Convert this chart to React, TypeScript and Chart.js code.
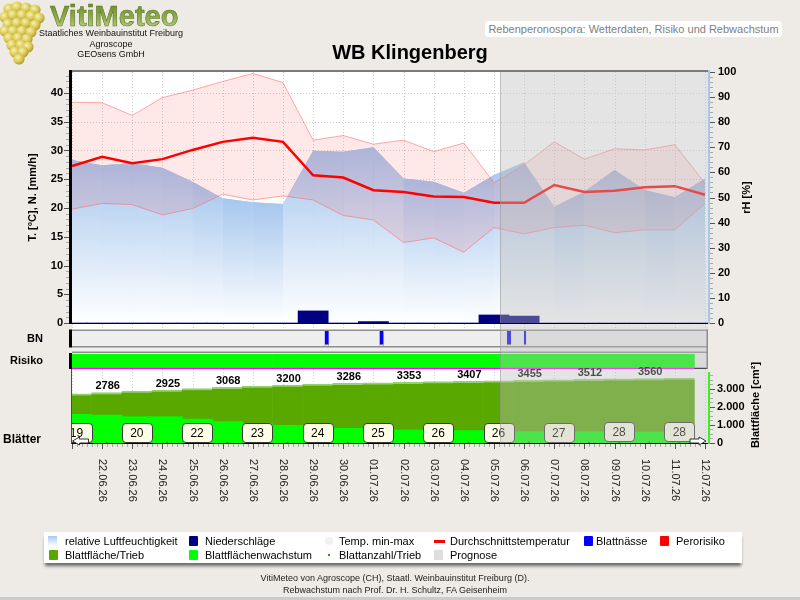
import React, { useEffect, useRef } from 'react';
import { Chart, registerables } from 'chart.js';

Chart.register(...registerables);

const FONT = '"Liberation Sans", Arial, Helvetica, sans-serif';

// ---------------- data ----------------
const days = ['21.06.26', '22.06.26', '23.06.26', '24.06.26', '25.06.26', '26.06.26', '27.06.26', '28.06.26', '29.06.26', '30.06.26', '01.07.26', '02.07.26', '03.07.26', '04.07.26', '05.07.26', '06.07.26', '07.07.26', '08.07.26', '09.07.26', '10.07.26', '11.07.26', '12.07.26'];
const firstLabelledDay = 1;

const tempMean = [27.3, 28.9, 27.8, 28.5, 30.1, 31.5, 32.2, 31.5, 25.7, 25.3, 23.1, 22.8, 22.0, 21.9, 20.9, 20.9, 24.0, 22.8, 23.0, 23.6, 23.8, 22.3];
const tempMax = [38.4, 38.3, 36.1, 39.2, 40.5, 42.0, 43.4, 41.8, 31.8, 32.6, 31.1, 31.8, 29.8, 31.3, 24.4, 27.5, 31.5, 28.5, 30.3, 30.1, 31.0, 24.3];
const tempMin = [19.8, 20.8, 20.6, 18.8, 19.9, 22.4, 21.4, 22.1, 21.4, 18.7, 17.9, 14.0, 14.8, 12.3, 16.6, 15.5, 16.6, 17.0, 15.7, 16.2, 16.2, 20.8];
const humidity = [64.9, 62.8, 63.6, 61.9, 56.3, 49.7, 48.1, 47.4, 68.6, 68.2, 70.0, 57.6, 56.3, 51.9, 59.0, 63.9, 46.3, 52.3, 61.0, 53.0, 50.1, 57.6];
const precipitation = [0, 0, 0, 0, 0, 0, 0, 0, 2.1, 0, 0.25, 0, 0, 0, 1.4, 1.2, 0, 0, 0, 0, 0, 0];
const leafWetness = [[8.38, 8.52], [10.2, 10.34], [14.43, 14.57], [14.99, 15.07]];

const riskLevel = [0, 0, 0, 0, 0, 0, 0, 0, 0, 0, 0, 0, 0, 0, 0, 0, 0, 0, 0, 0, 0];
const leafArea = [2710, 2786, 2858, 2925, 2998, 3068, 3136, 3200, 3245, 3286, 3321, 3353, 3382, 3407, 3432, 3455, 3485, 3512, 3537, 3560, 3584];
const leafGrowth = [1580, 1540, 1450, 1450, 1320, 1180, 1070, 980, 900, 810, 720, 720, 700, 690, 660, 630, 630, 620, 620, 610, 610];
const leafCount = [19, 20, 20, 21, 22, 22, 23, 23, 24, 24, 25, 25, 26, 26, 26, 26, 27, 27, 28, 28, 28];
const forecastStart = 14.2;
const leafModelTime = 0.15;

const tempTicks = [0, 5, 10, 15, 20, 25, 30, 35, 40];
const humidityTicks = [0, 10, 20, 30, 40, 50, 60, 70, 80, 90, 100];
const leafTicks = [0, 1000, 2000, 3000];

// ---------------- layout ----------------
const AREA = { left: 72, right: 708, top: 72, bottom: 445 };
const X_MAX = 21.1;
const DAY_PX = (AREA.right - AREA.left) / X_MAX;

function axisRange(zeroPx: number, pxPerUnit: number) {
  return { min: -(AREA.bottom - zeroPx) / pxPerUnit, max: (zeroPx - AREA.top) / pxPerUnit };
}
const tRange = axisRange(323, 5.75);
const rhRange = axisRange(323, 2.51);
const bnRange = axisRange(346, 15);
const riskRange = axisRange(369, 15);
const leafRange = axisRange(443, 0.01813);

const DS_LEAF_AREA = 8;
const DS_LEAF_COUNT = 10;

const RH_TOP_COLOR = '#a6c7ee';

function fmtThousands(v: number) {
  return String(v).replace(/\B(?=(\d{3})+(?!\d))/g, '.');
}

function line(ctx: any, x1: number, y1: number, x2: number, y2: number) {
  ctx.beginPath();
  ctx.moveTo(x1, y1);
  ctx.lineTo(x2, y2);
  ctx.stroke();
}

function roundRect(ctx: any, x: number, y: number, w: number, h: number, r: number) {
  ctx.beginPath();
  ctx.moveTo(x + r, y);
  ctx.lineTo(x + w - r, y);
  ctx.quadraticCurveTo(x + w, y, x + w, y + r);
  ctx.lineTo(x + w, y + h - r);
  ctx.quadraticCurveTo(x + w, y + h, x + w - r, y + h);
  ctx.lineTo(x + r, y + h);
  ctx.quadraticCurveTo(x, y + h, x, y + h - r);
  ctx.lineTo(x, y + r);
  ctx.quadraticCurveTo(x, y, x + r, y);
  ctx.closePath();
}

function rotatedText(ctx: any, text: string, x: number, y: number, angle: number, align: string) {
  ctx.save();
  ctx.translate(x, y);
  ctx.rotate(angle);
  ctx.textAlign = align;
  ctx.fillText(text, 0, 0);
  ctx.restore();
}

function arrow(ctx: any, tipX: number, y: number, dir: number) {
  const len = 16, head = 7, half = 4, shaft = 2;
  ctx.beginPath();
  ctx.moveTo(tipX, y);
  ctx.lineTo(tipX - dir * head, y - half);
  ctx.lineTo(tipX - dir * head, y - shaft);
  ctx.lineTo(tipX - dir * len, y - shaft);
  ctx.lineTo(tipX - dir * len, y + shaft);
  ctx.lineTo(tipX - dir * head, y + shaft);
  ctx.lineTo(tipX - dir * head, y + half);
  ctx.closePath();
  ctx.fillStyle = '#ffffff';
  ctx.fill();
  ctx.strokeStyle = '#333';
  ctx.lineWidth = 1;
  ctx.stroke();
}

function geometry(chart: any) {
  const s = chart.scales;
  return {
    zeroT: s.yT.getPixelForValue(0),
    bnTop: s.yBN.getPixelForValue(1),
    bnBottom: s.yBN.getPixelForValue(0),
    riskTop: s.yRisk.getPixelForValue(1),
    riskBottom: s.yRisk.getPixelForValue(0),
    leafZero: s.yLeaf.getPixelForValue(0),
  };
}

function rhSegmentFill(c: any) {
  const chart = c.chart;
  const base = chart.scales.yRH.getPixelForValue(0);
  const top = Math.min(c.p0.y, c.p1.y);
  const g = chart.ctx.createLinearGradient(0, top, 0, base);
  g.addColorStop(0, RH_TOP_COLOR);
  g.addColorStop(1, '#ffffff');
  return g;
}

function rhUnderFill(c: any) {
  const chart = c.chart;
  const sc = chart.scales.yRH;
  if (!sc || !chart.chartArea) return '#c8dcf4';
  const base = sc.getPixelForValue(0);
  const top = sc.getPixelForValue(60);
  const g = chart.ctx.createLinearGradient(0, top, 0, base);
  g.addColorStop(0, RH_TOP_COLOR);
  g.addColorStop(1, '#ffffff');
  return g;
}

const decorPlugin = {
  id: 'vitimeteoDecor',
  beforeDatasetsDraw(chart: any) {
    const { ctx, chartArea: a, scales: s } = chart;
    const g = geometry(chart);
    const W = a.right - a.left;
    ctx.save();
    ctx.fillStyle = '#ffffff';
    ctx.fillRect(a.left, a.top, W, g.bnTop - 1 - a.top);
    ctx.fillStyle = '#eeeeee';
    ctx.fillRect(a.left, g.bnTop - 1, W, g.riskBottom - g.bnTop + 1);
    ctx.fillStyle = '#ffffff';
    ctx.fillRect(a.left, g.riskBottom, W, g.leafZero - g.riskBottom);

    ctx.strokeStyle = '#d0d0d0';
    ctx.lineWidth = 1;
    ctx.setLineDash([1, 2]);
    days.forEach((_, d) => {
      const px = Math.round(s.x.getPixelForValue(d)) + 0.5;
      line(ctx, px, a.top, px, g.bnTop - 1);
      line(ctx, px, g.riskBottom, px, g.leafZero);
    });
    tempTicks.forEach((v) => {
      if (v === 0) return;
      const py = Math.round(s.yT.getPixelForValue(v)) + 0.5;
      line(ctx, a.left, py, a.right, py);
    });
    ctx.setLineDash([]);

    ctx.strokeStyle = '#8e8e8e';
    ctx.lineWidth = 1.5;
    line(ctx, a.left, g.bnTop - 0.75, a.right, g.bnTop - 0.75);
    line(ctx, a.left, g.bnBottom + 0.75, a.right, g.bnBottom + 0.75);
    line(ctx, a.left, g.riskTop - 1.75, a.right, g.riskTop - 1.75);
    ctx.strokeStyle = '#000';
    ctx.lineWidth = 1.2;
    line(ctx, a.left, g.riskBottom - 0.6, a.right, g.riskBottom - 0.6);
    ctx.restore();
  },
  afterDatasetsDraw(chart: any) {
    const { ctx, chartArea: a, scales: s } = chart;
    const g = geometry(chart);

    ctx.save();
    ctx.beginPath();
    ctx.rect(a.left, a.top, a.right - a.left, a.bottom - a.top);
    ctx.clip();

    // leaf area labels
    const areaMeta = chart.getDatasetMeta(DS_LEAF_AREA);
    ctx.font = `bold 11px ${FONT}`;
    ctx.fillStyle = '#000';
    ctx.textAlign = 'center';
    ctx.textBaseline = 'alphabetic';
    areaMeta.data.forEach((el: any, i: number) => {
      if (i % 2 === 1) ctx.fillText(String(leafArea[i]), el.x + 1, el.y - 3);
    });

    // leaf count boxes
    const countMeta = chart.getDatasetMeta(DS_LEAF_COUNT);
    ctx.font = `12px ${FONT}`;
    ctx.textBaseline = 'middle';
    countMeta.data.forEach((el: any, i: number) => {
      if (i % 2 !== 0) return;
      const bx = Math.round(el.x - 15) + 0.5;
      const by = Math.round(el.y - 20) + 0.5;
      roundRect(ctx, bx, by, 30, 19, 3.5);
      ctx.fillStyle = '#ffffe8';
      ctx.fill();
      ctx.strokeStyle = '#3a3a3a';
      ctx.lineWidth = 1;
      ctx.stroke();
      ctx.fillStyle = '#000';
      ctx.fillText(String(leafCount[i]), el.x, by + 10);
    });

    // forecast overlay
    const fx = s.x.getPixelForValue(forecastStart);
    ctx.fillStyle = 'rgba(188,188,188,0.4)';
    ctx.fillRect(fx, a.top, a.right - fx, g.leafZero - a.top);
    ctx.strokeStyle = 'rgba(140,140,140,0.45)';
    ctx.lineWidth = 1;
    line(ctx, Math.round(fx) + 0.5, a.top, Math.round(fx) + 0.5, g.leafZero);
    ctx.restore();

    ctx.save();
    // frame lines
    ctx.strokeStyle = '#7a7a7a';
    ctx.lineWidth = 2;
    line(ctx, a.left, a.top - 1, a.right, a.top - 1);
    ctx.strokeStyle = '#000';
    ctx.lineWidth = 1;
    line(ctx, a.left, Math.round(g.zeroT) + 0.5, a.right, Math.round(g.zeroT) + 0.5);
    line(ctx, a.left, Math.round(g.leafZero) + 0.5, a.right, Math.round(g.leafZero) + 0.5);
    ctx.lineWidth = 3;
    line(ctx, a.left - 1.5, a.top - 2, a.left - 1.5, g.zeroT + 1);
    line(ctx, a.left - 1.5, g.bnTop - 1.5, a.left - 1.5, g.bnBottom + 1.5);
    line(ctx, a.left - 1.5, g.riskTop - 1, a.left - 1.5, g.riskBottom);
    ctx.lineWidth = 1;
    ctx.strokeStyle = '#4a4a4a';
    line(ctx, a.left - 0.5, g.riskBottom, a.left - 0.5, g.leafZero + 1);
    ctx.strokeStyle = '#8e8e8e';
    ctx.lineWidth = 1.5;
    line(ctx, a.right - 0.75, g.bnTop - 1.5, a.right - 0.75, g.riskBottom);
    ctx.lineWidth = 2;
    ctx.strokeStyle = '#a6c6ec';
    line(ctx, a.right + 1, a.top - 2, a.right + 1, g.zeroT + 1);
    ctx.strokeStyle = '#3cf01e';
    line(ctx, a.right + 1, g.riskBottom + 3, a.right + 1, g.leafZero + 1);

    // tick marks
    ctx.lineWidth = 1;
    for (let v = 0; v <= 43; v++) {
      const py = Math.round(s.yT.getPixelForValue(v)) + 0.5;
      const major = v % 5 === 0;
      ctx.strokeStyle = major ? '#555' : '#a8a8a8';
      line(ctx, a.left - (major ? 8 : 6), py, a.left - 3, py);
    }
    for (let v = 0; v <= 100; v += 2) {
      const py = Math.round(s.yRH.getPixelForValue(v)) + 0.5;
      const major = v % 10 === 0;
      ctx.strokeStyle = major ? '#555' : '#a8a8a8';
      line(ctx, a.right + 2, py, a.right + (major ? 7 : 5), py);
    }
    for (let v = 0; v <= 3750; v += 250) {
      const py = Math.round(s.yLeaf.getPixelForValue(v)) + 0.5;
      const major = v % 1000 === 0;
      ctx.strokeStyle = major ? '#555' : '#a8a8a8';
      line(ctx, a.right + 2, py, a.right + (major ? 7 : 5), py);
    }
    for (let d = 0; d < days.length; d++) {
      for (let k = 0; k < 6; k++) {
        const v = d + k / 6;
        if (v > X_MAX) break;
        const px = Math.round(s.x.getPixelForValue(v)) + 0.5;
        ctx.strokeStyle = k === 0 ? '#555' : '#a8a8a8';
        line(ctx, px, g.leafZero + 1, px, g.leafZero + (k === 0 ? 6 : 4));
      }
    }

    // texts
    ctx.fillStyle = '#000';
    ctx.font = `bold 11px ${FONT}`;
    ctx.textAlign = 'left';
    ctx.textBaseline = 'middle';
    leafTicks.forEach((v) => ctx.fillText(fmtThousands(v), a.right + 9, s.yLeaf.getPixelForValue(v)));

    rotatedText(ctx, 'T. [°C], N. [mm/h]', 33, (a.top + g.zeroT) / 2, -Math.PI / 2, 'center');
    rotatedText(ctx, 'rH [%]', 747, (a.top + g.zeroT) / 2, -Math.PI / 2, 'center');
    rotatedText(ctx, 'Blattfläche [cm²]', 756, 405, -Math.PI / 2, 'center');

    ctx.textAlign = 'right';
    ctx.fillText('BN', 43, (g.bnTop + g.bnBottom) / 2);
    ctx.fillText('Risiko', 43, (g.riskTop + g.riskBottom) / 2 - 0.5);
    ctx.font = `bold 12px ${FONT}`;
    ctx.textAlign = 'left';
    ctx.fillText('Blätter', 3, g.leafZero - 3);

    ctx.font = `11px ${FONT}`;
    ctx.fillStyle = '#222';
    for (let d = firstLabelledDay; d < days.length; d++) {
      rotatedText(ctx, days[d], s.x.getPixelForValue(d), 459, Math.PI / 2, 'left');
    }

    arrow(ctx, a.left + 0.5, g.leafZero - 2, -1);
    arrow(ctx, a.right - 2, g.leafZero - 2, 1);
    ctx.restore();
  },
};

const boldTick = { family: FONT, size: 11, weight: 'bold' as const };

function buildConfig(): any {
  const dayPoints = (arr: number[]) => arr.map((v, i) => ({ x: i, y: v }));
  const leafPoints = (arr: number[]) => arr.map((v, i) => ({ x: i + leafModelTime, y: v }));
  const wetnessPoints = (h: number) =>
    leafWetness.flatMap(([s, e]) => [{ x: s, y: h }, { x: e, y: h }, { x: e, y: null }]);

  return {
    type: 'line',
    data: {
      datasets: [
        {
          label: 'relative Luftfeuchtigkeit',
          data: dayPoints(humidity),
          yAxisID: 'yRH',
          borderWidth: 0,
          borderColor: 'transparent',
          backgroundColor: '#c0d8f2',
          fill: 'origin',
          pointRadius: 0,
          order: 10,
          segment: {
            backgroundColor: rhSegmentFill,
            borderDashOffset: (c: any) => c.p0DataIndex,
          },
        },
        {
          label: 'Temp. max',
          data: dayPoints(tempMax),
          yAxisID: 'yT',
          borderColor: 'rgba(255,110,110,0.6)',
          borderWidth: 1,
          backgroundColor: 'rgba(255,0,0,0.09)',
          fill: '+1',
          pointRadius: 0,
          order: 9,
        },
        {
          label: 'Temp. min',
          data: dayPoints(tempMin),
          yAxisID: 'yT',
          borderColor: 'rgba(255,110,110,0.6)',
          borderWidth: 1,
          fill: false,
          pointRadius: 0,
          order: 8,
        },
        {
          label: 'Durchschnittstemperatur',
          data: dayPoints(tempMean),
          yAxisID: 'yT',
          borderColor: '#ff0000',
          borderWidth: 2.5,
          fill: false,
          pointRadius: 0,
          order: 7,
        },
        {
          type: 'bar',
          label: 'Niederschläge',
          data: dayPoints(precipitation),
          yAxisID: 'yT',
          backgroundColor: '#000080',
          barThickness: DAY_PX,
          grouped: false,
          order: 6,
        },
        {
          label: 'Blattnässe',
          data: wetnessPoints(1),
          yAxisID: 'yBN',
          borderWidth: 0,
          borderColor: 'transparent',
          backgroundColor: '#0000ff',
          fill: 'origin',
          pointRadius: 0,
          spanGaps: false,
          order: 5,
        },
        {
          label: 'Blattnässe Basis',
          data: wetnessPoints(0.1),
          yAxisID: 'yBN',
          borderWidth: 0,
          borderColor: 'transparent',
          backgroundColor: '#ffff00',
          fill: 'origin',
          pointRadius: 0,
          spanGaps: false,
          order: 4,
        },
        {
          type: 'bar',
          label: 'Perorisiko',
          data: riskLevel.map((_, i) => ({ x: i + leafModelTime, y: 1 })),
          yAxisID: 'yRisk',
          backgroundColor: (c: any) => (riskLevel[c.dataIndex] > 0 ? '#ff0000' : '#00ff00'),
          borderColor: '#ff00ff',
          borderWidth: { top: 0, left: 0, right: 0, bottom: 1.5 },
          borderSkipped: false,
          barThickness: DAY_PX + 0.6,
          grouped: false,
          order: 5,
        },
        {
          type: 'bar',
          label: 'Blattfläche/Trieb',
          data: leafPoints(leafArea),
          yAxisID: 'yLeaf',
          backgroundColor: '#58a800',
          borderColor: '#94d06e',
          borderWidth: { top: 2, left: 0, right: 0, bottom: 0 },
          borderSkipped: false,
          barThickness: DAY_PX + 0.6,
          grouped: false,
          order: 4,
        },
        {
          type: 'bar',
          label: 'Blattflächenwachstum',
          data: leafPoints(leafGrowth),
          yAxisID: 'yLeaf',
          backgroundColor: '#00ff00',
          barThickness: DAY_PX + 0.6,
          grouped: false,
          order: 3,
        },
        {
          label: 'Blattanzahl/Trieb',
          data: leafPoints(leafCount),
          yAxisID: 'yLeaf',
          showLine: false,
          pointRadius: 1,
          pointBorderWidth: 0,
          pointBackgroundColor: '#1f7a10',
          order: 2,
        },
        {
          label: 'relative Luftfeuchtigkeit (Grund)',
          data: dayPoints(humidity),
          yAxisID: 'yRH',
          borderWidth: 0,
          borderColor: 'transparent',
          backgroundColor: rhUnderFill,
          fill: 'origin',
          pointRadius: 0,
          order: 11,
        },
      ],
    },
    options: {
      responsive: false,
      animation: false,
      devicePixelRatio: 1,
      events: [],
      layout: { padding: { top: AREA.top, bottom: 600 - AREA.bottom, left: 0, right: 0 } },
      plugins: { legend: { display: false }, tooltip: { enabled: false }, title: { display: false } },
      scales: {
        x: { type: 'linear', min: 0, max: X_MAX, bounds: 'data', display: false, offset: false },
        yT: {
          type: 'linear',
          position: 'left',
          min: tRange.min,
          max: tRange.max,
          bounds: 'data',
          afterFit: (sc: any) => { sc.width = AREA.left; },
          afterBuildTicks: (sc: any) => { sc.ticks = tempTicks.map((v) => ({ value: v })); },
          ticks: { autoSkip: false, padding: 9, color: '#000', font: boldTick },
          grid: { display: false, drawTicks: false },
          border: { display: false },
        },
        yRH: {
          type: 'linear',
          position: 'right',
          min: rhRange.min,
          max: rhRange.max,
          bounds: 'data',
          afterFit: (sc: any) => { sc.width = 800 - AREA.right; },
          afterBuildTicks: (sc: any) => { sc.ticks = humidityTicks.map((v) => ({ value: v })); },
          ticks: { autoSkip: false, padding: 10, color: '#000', font: boldTick },
          grid: { display: false, drawTicks: false },
          border: { display: false },
        },
        yBN: { type: 'linear', display: false, min: bnRange.min, max: bnRange.max, bounds: 'data' },
        yRisk: { type: 'linear', display: false, min: riskRange.min, max: riskRange.max, bounds: 'data' },
        yLeaf: { type: 'linear', display: false, min: leafRange.min, max: leafRange.max, bounds: 'data' },
      },
    },
    plugins: [decorPlugin],
  };
}

// ---------------- HTML parts ----------------
const legendItems = [
  { row: 0, x: 48, tx: 65, kind: 'gradient', color: '#a8c8ee', label: 'relative Luftfeuchtigkeit' },
  { row: 0, x: 189, tx: 205, kind: 'square', color: '#000080', label: 'Niederschläge' },
  { row: 0, x: 325, tx: 339, kind: 'circle', color: '#f1f1f1', label: 'Temp. min-max' },
  { row: 0, x: 434, tx: 450, kind: 'line', color: '#ff0000', label: 'Durchschnittstemperatur' },
  { row: 0, x: 584, tx: 596, kind: 'square', color: '#0000ff', label: 'Blattnässe' },
  { row: 0, x: 660, tx: 676, kind: 'square', color: '#ff0000', label: 'Perorisiko' },
  { row: 1, x: 49, tx: 65, kind: 'square', color: '#58a800', label: 'Blattfläche/Trieb' },
  { row: 1, x: 189, tx: 205, kind: 'square', color: '#00ff00', label: 'Blattflächenwachstum' },
  { row: 1, x: 328, tx: 339, kind: 'dot', color: '#1f9a10', label: 'Blattanzahl/Trieb' },
  { row: 1, x: 434, tx: 450, kind: 'square', color: '#dddddd', label: 'Prognose' },
];

function Swatch({ kind, color, x, y }: any) {
  const base: any = { position: 'absolute', left: x, top: y };
  if (kind === 'gradient')
    return <div style={{ ...base, top: y - 5, width: 9, height: 10, background: `linear-gradient(${color}, #ffffff)` }} />;
  if (kind === 'square')
    return <div style={{ ...base, top: y - 5, width: 9, height: 10, background: color, borderRadius: 1 }} />;
  if (kind === 'circle')
    return <div style={{ ...base, top: y - 4, width: 8, height: 8, background: color, borderRadius: 4 }} />;
  if (kind === 'line')
    return <div style={{ ...base, top: y - 1, width: 11, height: 3, background: color }} />;
  return <div style={{ ...base, top: y - 1, width: 2, height: 2, background: color }} />;
}

function Legend() {
  const left = 44, top = 532;
  return (
    <div style={{ position: 'absolute', left, top, width: 698, height: 31, background: '#ffffff', boxShadow: '0 4px 3px -1px rgba(0,0,0,0.55)' }}>
      {legendItems.map((it, i) => {
        const cy = it.row === 0 ? 9 : 23;
        return (
          <React.Fragment key={i}>
            <Swatch kind={it.kind} color={it.color} x={it.x - left} y={cy} />
            <div style={{ position: 'absolute', left: it.tx - left, top: cy - 7, height: 14, lineHeight: '14px', fontSize: 11, color: '#000', whiteSpace: 'nowrap' }}>
              {it.label}
            </div>
          </React.Fragment>
        );
      })}
    </div>
  );
}

const berries = [
  [9, 9], [17, 7], [26, 8], [35, 10], [5, 17], [13, 15], [22, 15], [31, 16], [39, 18],
  [8, 24], [17, 23], [26, 23], [35, 25], [5, 31], [13, 31], [22, 31], [31, 32], [9, 38],
  [18, 38], [27, 39], [12, 45], [21, 45], [28, 47], [15, 52], [23, 52], [19, 59],
];

function Logo() {
  return (
    <>
      <svg width={48} height={66} style={{ position: 'absolute', left: 0, top: 0 }}>
        <defs>
          <radialGradient id="berry" cx="0.38" cy="0.35" r="0.7">
            <stop offset="0" stopColor="#f8f0b0" />
            <stop offset="0.6" stopColor="#d8c650" />
            <stop offset="1" stopColor="#a89428" />
          </radialGradient>
        </defs>
        {berries.map(([cx, cy], i) => (
          <circle key={i} cx={cx} cy={cy} r={5.6} fill="url(#berry)" />
        ))}
      </svg>
      <svg width={140} height={32} style={{ position: 'absolute', left: 48, top: 0 }}>
        <defs>
          <linearGradient id="vm" x1="0" y1="0" x2="0" y2="1">
            <stop offset="0" stopColor="#64842a" />
            <stop offset="0.55" stopColor="#8fae4a" />
            <stop offset="1" stopColor="#c8d99a" />
          </linearGradient>
        </defs>
        <text x={2} y={26} fontFamily={FONT} fontWeight="bold" fontSize={29} fill="url(#vm)" stroke="#5d7524" strokeWidth={0.6}>
          VitiMeteo
        </text>
      </svg>
      {['Staatliches Weinbauinstitut Freiburg', 'Agroscope', 'GEOsens GmbH'].map((t, i) => (
        <div key={t} style={{ position: 'absolute', left: 30, top: 28 + i * 10.5, width: 162, textAlign: 'center', fontSize: 9, lineHeight: '10px', color: '#111', whiteSpace: 'nowrap' }}>
          {t}
        </div>
      ))}
    </>
  );
}

export default function App() {
  const canvasRef = useRef<HTMLCanvasElement>(null);
  useEffect(() => {
    const chart = new Chart(canvasRef.current as HTMLCanvasElement, buildConfig());
    return () => chart.destroy();
  }, []);

  return (
    <div style={{ position: 'absolute', left: 0, top: 0, width: 800, height: 600, background: '#eeebe6', overflow: 'hidden', fontFamily: FONT }}>
      <canvas ref={canvasRef} width={800} height={600} style={{ position: 'absolute', left: 0, top: 0, width: 800, height: 600 }} />
      <Logo />
      <div style={{ position: 'absolute', left: 300, top: 41, width: 220, textAlign: 'center', fontSize: 20, fontWeight: 'bold', lineHeight: '22px', color: '#000' }}>
        WB Klingenberg
      </div>
      <div style={{ position: 'absolute', left: 485, top: 21, width: 297, height: 16, background: '#ffffff', borderRadius: 4, textAlign: 'center', fontSize: 11, lineHeight: '16px', color: '#808080', whiteSpace: 'nowrap' }}>
        Rebenperonospora: Wetterdaten, Risiko und Rebwachstum
      </div>
      <Legend />
      <div style={{ position: 'absolute', left: 0, top: 572, width: 790, textAlign: 'center', fontSize: 9, lineHeight: '12px', color: '#222' }}>
        VitiMeteo von Agroscope (CH), Staatl. Weinbauinstitut Freiburg (D).
        <br />
        Rebwachstum nach Prof. Dr. H. Schultz, FA Geisenheim
      </div>
      <div style={{ position: 'absolute', left: 0, top: 597, width: 800, height: 3, background: '#cbcbcb' }} />
    </div>
  );
}
